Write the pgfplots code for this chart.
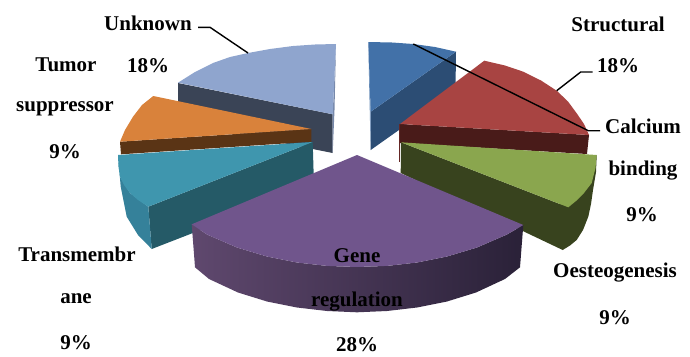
\documentclass[border=0pt]{standalone}
\usepackage{pgfplots}
\usepackage{fontspec}
\setmainfont{Liberation Serif}
\pgfplotsset{compat=1.18}
\definecolor{unkTop}{HTML}{8FA5CE}
\definecolor{unkSide}{HTML}{3A4456}
\definecolor{unkEdge}{HTML}{7688AA}
\definecolor{oraTop}{HTML}{D9823B}
\definecolor{oraSide}{HTML}{5A3415}
\definecolor{teaTop}{HTML}{3F96AE}
\definecolor{teaSide}{HTML}{255A67}
\definecolor{teaOut}{HTML}{35819A}
\definecolor{bluTop}{HTML}{4271A8}
\definecolor{bluSide}{HTML}{2C4D74}
\definecolor{redTop}{HTML}{A84442}
\definecolor{redSide}{HTML}{491B19}
\definecolor{greTop}{HTML}{8AA64E}
\definecolor{greSide}{HTML}{38431E}
\definecolor{purTop}{HTML}{70558C}
\definecolor{purL}{HTML}{5F486E}
\definecolor{purM}{HTML}{443356}
\definecolor{purR}{HTML}{2A2138}
\tikzset{lab/.style={font=\fontsize{21}{21}\selectfont\bfseries,text=black,inner sep=0pt,anchor=center},
  lead/.style={black,line width=1.4pt}}
\begin{document}
\begin{tikzpicture}
\begin{axis}[scale only axis,width=690pt,height=356pt,xmin=0,xmax=690,ymin=0,ymax=356,
  y dir=reverse,hide axis,clip=false]
% Fixes the page to the full plotting rectangle
\path (rel axis cs:0,0) rectangle (rel axis cs:1,1);
% Unknown
\addplot[fill=unkSide,draw=none] coordinates {(178,83)(332.7,114.3)(332.7,153)(178,122)} --cycle;
\addplot[fill=unkEdge,draw=none] coordinates {(336,44)(332.7,114.3)(332.7,153)(334.5,110)} --cycle;
\addplot[fill=unkTop,draw=none] coordinates {(178,82.7)(195,72)(213,63)(230,57)(248,53)(270,49)(293,46)(315,44.5)(336,44)(332.7,114.3)} --cycle;
% Tumor suppressor
\addplot[fill=oraSide,draw=none] coordinates {(120,141.7)(311.3,129)(311.3,141.7)(121,154.3)} --cycle;
\addplot[fill=oraTop,draw=none] coordinates {(153.3,96)(142,105)(133,116.7)(125,130)(120,141.7)(311.3,129)} --cycle;
% Transmembrane
\addplot[fill=teaSide,draw=none] coordinates {(148.3,206.7)(312.7,142)(314,186)(151.7,249)} --cycle;
\addplot[fill=teaOut,draw=none] coordinates {(118,155)(120,176.7)(130,193)(148.3,206.7)(151.7,249)(138,235)(126.7,216.7)(120.7,186.7)} --cycle;
\addplot[fill=teaTop,draw=none] coordinates {(118,155)(118.5,167)(120,176.7)(124,185)(130,193)(138,200)(148.3,206.7)(312.7,142)} --cycle;
% Calcium binding
\addplot[fill=bluSide,draw=none] coordinates {(370.7,111.7)(456,51.7)(455.5,90)(370.7,150)} --cycle;
\addplot[fill=bluTop!80!white,draw=none] coordinates {(368.3,42)(370.7,111.7)(370.7,150)(369.5,100)} --cycle;
\addplot[fill=bluTop,draw=none] coordinates {(368.3,42)(392,42.5)(413.3,44)(435,47)(456,51.7)(370.7,111.7)} --cycle;
% Structural
\addplot[fill=redSide,draw=none] coordinates {(400,124)(589,135)(587,154)(400,143)} --cycle;
\addplot[fill=redSide!70!redTop,draw=none] coordinates {(398.8,124)(400,124)(400,162)(398.8,162)} --cycle;
\addplot[fill=redTop,draw=none] coordinates {(400,124)(484.3,60.7)(505,65.5)(523.3,71.7)(541,80.5)(556.7,90.7)(568,101.5)(576.7,113.3)(584,124)(589,135)} --cycle;
% Oesteogenesis
\addplot[fill=greSide,draw=none] coordinates {(401,142.3)(568.3,207.3)(562.7,250)(400.7,173)} --cycle;
\addplot[fill=greSide,draw=none] coordinates {(596.7,155)(596,172)(593,190)(591,204)(588.3,216.7)(583,230)(576.7,240)(570,245.5)(562.7,250)(560,205)(580,170)} --cycle;
\addplot[fill=greTop,draw=none] coordinates {(401,142.3)(596.7,155)(595.5,168)(591.7,183)(584,193)(576,201)(568.3,207.3)} --cycle;
% Gene regulation
\addplot[left color=purL,middle color=purM,right color=purR,draw=none] coordinates {
  (191.7,224.3)(207,234.5)(237,247.5)(267,256.5)(297,262.5)(327,265.9)(357,267)(387,265.9)(417,262.5)(447,256.5)(477,247.5)(507,234.5)(523.3,225)
  (520,267.3)(505,279)(476,292.5)(447,301.5)(417,307.5)(387,311)(357,312.3)(327,311)(297,307.5)(267,301.5)(238,292.5)(209,279)(195,267.3)} --cycle;
\addplot[fill=purTop,draw=none] coordinates {(357,155)(191.7,224.3)(207,234.5)(237,247.5)(267,256.5)(297,262.5)(327,265.9)(357,267)(387,265.9)(417,262.5)(447,256.5)(477,247.5)(507,234.5)(523.3,225)} --cycle;
% Leader lines
\addplot[lead] coordinates {(198,27.3)(210,27.3)(248,53)};
\addplot[lead] coordinates {(413.3,44)(588.3,130.7)(600,130.7)};
\addplot[lead] coordinates {(556.7,90.7)(580.7,72)(592.7,72)};
% Labels
\node[lab] at (axis cs:148,23) {Unknown};
\node[lab] at (axis cs:148,66) {18\%};
\node[lab] at (axis cs:66,65) {Tumor};
\node[lab] at (axis cs:65,109) {suppressor};
\node[lab] at (axis cs:65,152) {9\%};
\node[lab] at (axis cs:77,254) {Transmembr};
\node[lab] at (axis cs:76,299) {ane};
\node[lab] at (axis cs:76,343) {9\%};
\node[lab] at (axis cs:357,256) {Gene};
\node[lab] at (axis cs:357,302) {regulation};
\node[lab] at (axis cs:357,345) {28\%};
\node[lab] at (axis cs:615,273) {Oesteogenesis};
\node[lab] at (axis cs:615,318) {9\%};
\node[lab] at (axis cs:643,126) {Calcium};
\node[lab] at (axis cs:643,171) {binding};
\node[lab] at (axis cs:642,215) {9\%};
\node[lab] at (axis cs:618,24) {Structural};
\node[lab] at (axis cs:618,66) {18\%};
\end{axis}
\end{tikzpicture}
\end{document}
